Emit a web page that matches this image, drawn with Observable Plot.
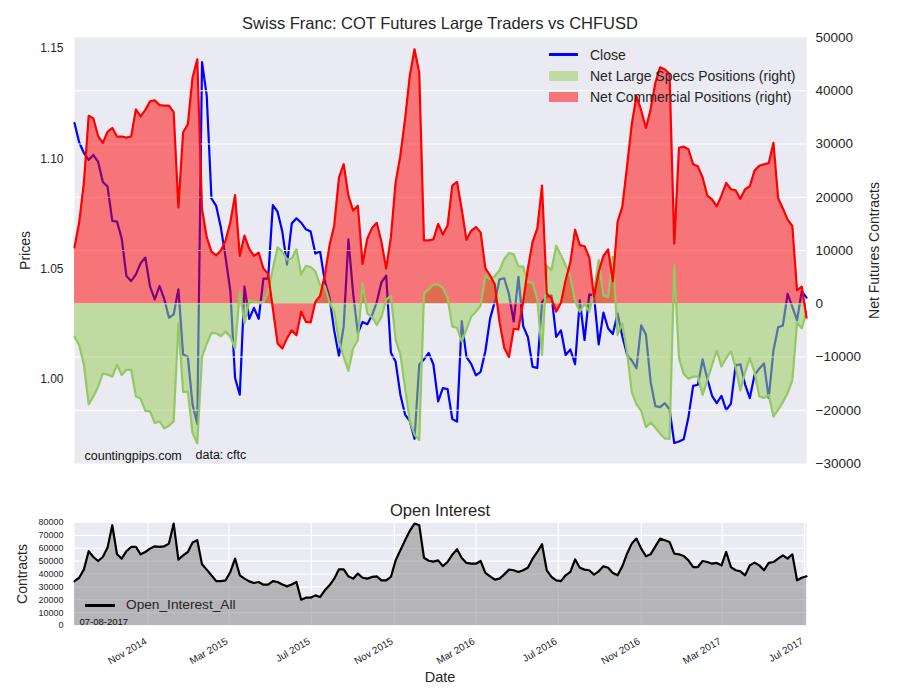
<!DOCTYPE html>
<html><head><meta charset="utf-8">
<script src="https://cdn.jsdelivr.net/npm/d3@7"></script>
<script src="https://cdn.jsdelivr.net/npm/@observablehq/plot@0.6"></script>
<style>
body{margin:0;background:#fff;}
#wrap{position:relative;width:900px;height:700px;font-family:"Liberation Sans",Arial,sans-serif;color:#262626;overflow:hidden;}
#wrap svg{position:absolute;left:0;top:0;}
.t{position:absolute;white-space:nowrap;line-height:1;}
.c{transform:translate(-50%,-50%);}
.sw{position:absolute;}
</style></head><body><div id="wrap"></div>
<script>
// Weekly COT report dates start
const startDate = "2014-07-15";

// CHFUSD close (left axis)
const close = [
1.1162,1.1074,1.1026,1.0995,1.1017,1.0986,1.0895,1.0874,1.0718,1.0715,
1.0638,1.0468,1.0445,1.0476,1.0526,1.0552,1.0420,1.0362,1.0423,1.0365,
1.0279,1.0294,1.0408,1.0112,1.0102,0.9885,0.9798,1.1438,1.1286,1.0820,
1.0786,1.0688,1.0552,1.0400,1.0006,0.9930,1.0420,1.0274,1.0324,1.0274,
1.0456,1.0456,1.0790,1.0760,1.0670,1.0520,1.0706,1.0730,1.0710,1.0680,
1.0670,1.0570,1.0580,1.0445,1.0370,1.0220,1.0105,1.0240,1.0635,1.0390,
1.0210,1.0260,1.0250,1.0290,1.0350,1.0440,1.0470,1.0120,1.0080,0.9930,
0.9840,0.9810,0.9730,1.0067,1.0090,1.0120,1.0067,0.9900,0.9960,0.9955,
0.9820,0.9808,1.0264,1.0100,1.0070,1.0018,1.0034,1.0127,1.0275,1.0352,
1.0453,1.0458,1.0385,1.0262,1.0464,1.0241,1.0192,1.0056,1.0052,1.0350,
1.0375,1.0380,1.0192,1.0222,1.0110,1.0135,1.0068,1.0358,1.0178,1.0385,
1.0380,1.0158,1.0302,1.0230,1.0205,1.0298,1.0195,1.0112,1.0085,1.0050,
1.0245,1.0203,0.9987,0.9878,0.9874,0.9892,0.9863,0.9711,0.9718,0.9728,
0.9828,0.9970,0.9975,1.0090,1.0002,0.9925,0.9892,0.9925,0.9860,0.9890,
1.0063,1.0068,0.9976,0.9915,1.0020,1.0048,1.0072,0.9915,1.0130,1.0236,
1.0244,1.0387,1.0328,1.0268,1.0400,1.0370];

// Net Large Specs Positions (right axis)
const specs = [
-6200,-7800,-11500,-18900,-17400,-15600,-13100,-13300,-13700,-11500,
-13400,-12400,-12400,-17400,-17800,-20100,-20200,-22400,-22100,-23400,
-22900,-22100,-3700,-16600,-16500,-24300,-26200,-10000,-7500,-5500,
-5500,-6100,-5200,-6200,-8400,2200,-3700,660,340,300,
340,2200,6600,10600,9800,8300,8500,10200,5500,7100,
6900,6100,3500,3300,340,-1500,-7100,-10000,-12600,-8400,
-6800,3800,-1800,-2500,-4000,-2500,780,1470,-6800,-9500,
-15900,-22100,-24600,-25600,1900,2700,3600,3600,3000,1100,
-4300,-4500,-7100,-4800,-2400,-1500,-300,5300,4600,5200,
6300,8400,9500,9300,7000,7000,4100,3900,800,-9600,
7200,6300,10900,9100,7200,5100,500,-1500,0,-1500,
2300,8200,1500,1300,8800,-5900,-3700,-9100,-16600,-18900,
-20100,-23200,-22300,-23300,-24400,-25300,-25400,7200,-10200,-13200,
-14100,-13700,-13700,-17100,-14400,-11500,-8800,-11800,-10200,-8900,
-12000,-16300,-12900,-10200,-12900,-17400,-17700,-17100,-21200,-19900,
-18500,-16800,-14400,-3500,-4600,-1500];

// Net Commercial Positions (right axis)
const commercial = [
10600,15300,22800,35300,34800,31500,30200,32300,33000,31400,
31400,31200,31400,36500,35200,36400,38000,38200,37300,37200,
37200,36000,18100,32200,33700,42500,45900,17800,12500,9800,
9100,10000,11900,15300,20400,9000,12800,10300,9000,9600,
6600,5650,-900,-7460,-8400,-6500,-5000,-5900,-1500,-3400,
-3500,340,1470,5340,10950,14700,23700,26200,20300,17500,
18400,7500,12200,14200,15200,11600,6600,12500,22800,27800,
34700,42800,47800,43400,11900,11900,12100,15000,13000,14700,
22200,22900,17700,12000,13700,14400,13400,6700,5300,3600,
-3400,-8300,-10000,-4700,-4800,340,6600,11600,14100,22200,
1900,970,-1500,200,4400,7800,13900,11000,10800,8700,
1300,6000,9000,10200,4200,15400,18200,25800,33700,39000,
36300,33000,36500,41500,44400,44000,43200,11300,29300,29500,
29000,26200,25800,23700,20300,19600,18300,20300,22700,21500,
21300,19700,21500,22100,25000,25900,26200,26400,30200,19800,
17900,15800,14600,2500,3200,-2600];

// Open interest (bottom panel)
const openInterest = [
34500,37100,43600,57700,53200,50100,53200,60500,77900,55300,
51900,57700,61000,61000,55300,57100,59700,61500,61000,61500,
63600,79200,51200,54500,57100,64400,66200,47500,43400,39000,
34500,34500,35100,41600,52000,39000,36400,34300,33000,33800,
31700,31700,34500,33800,31900,30400,31900,33800,20000,21600,
21600,23400,22100,27300,31200,36400,43600,43600,38200,36400,
40300,37100,36400,37700,38200,35100,35100,37700,50600,58400,
66200,73500,79200,77900,52600,50300,49600,50600,46100,49300,
55000,59200,52500,48600,48000,48000,50100,40800,38200,35600,
36400,39700,43400,42900,41600,42900,44900,51900,57100,63100,
42900,37700,35100,34500,39000,41600,51400,44900,43400,42900,
39500,42100,46000,44900,40800,39000,46000,55800,63600,67500,
59700,53800,55300,61500,67500,66200,64900,55800,55300,54000,
50600,45400,45400,50100,49300,48000,48600,46700,57100,45400,
42900,42100,39000,46700,48800,46700,42900,48600,49300,51900,
54500,51900,55300,35100,37100,38200];

const leftTicks = [1.00, 1.05, 1.10, 1.15];
const rightTicks = [-30000,-20000,-10000,0,10000,20000,30000,40000,50000];
const oiTicks = [0,10000,20000,30000,40000,50000,60000,70000,80000];
const dateTicks = ["2014-11-01","2015-03-01","2015-07-01","2015-11-01","2016-03-01","2016-07-01","2016-11-01","2017-03-01","2017-07-01"].map(d => new Date(d));

const start = new Date(startDate);
const data = close.map((c, i) => ({
  date: d3.utcDay.offset(start, 7 * i),
  close: c, spec: specs[i], comm: commercial[i], oi: openInterest[i]
}));

const FONT = '"Liberation Sans", Arial, sans-serif';
const TXT = "#262626";
const BG = "#EAEAF2";
const GREEN = "#9ACD5E";
const xDomain = [data[0].date, data[data.length - 1].date];
const common = {
  width: 900, height: 700, marginLeft: 74, marginRight: 94,
  style: {background: "transparent", overflow: "visible", fontFamily: FONT, color: TXT, maxWidth: "none"}
};
const fmtSigned = d => d < 0 ? "\u2212" + Math.abs(d) : String(d);

// Top panel, primary axis
const plotA = Plot.plot({
  ...common, marginTop: 37, marginBottom: 237,
  x: {type: "utc", domain: xDomain, axis: null},
  y: {domain: [0.9618, 1.155]},
  marks: [
    Plot.frame({fill: BG, stroke: null}),
    Plot.lineY(data, {x: "date", y: "close", stroke: "#0000FF", strokeWidth: 2.2}),
    Plot.axisY(leftTicks, {tickSize: 0, tickPadding: 11, fontSize: 12, tickFormat: d3.format(".2f"), label: null}),
    Plot.text(["Prices"], {frameAnchor: "left", dx: -49, rotate: -90, fontSize: 14, textAnchor: "middle"})
  ]
});

// Top panel, secondary axis
const plotB = Plot.plot({
  ...common, marginTop: 37, marginBottom: 237,
  x: {type: "utc", domain: xDomain, axis: null},
  y: {domain: [-30000, 50000]},
  marks: [
    Plot.ruleY(rightTicks.slice(1, -1), {stroke: "#fff", strokeWidth: 1.2}),
    Plot.areaY(data, {x: "date", y: "spec", fill: GREEN, fillOpacity: 0.55}),
    Plot.areaY(data, {x: "date", y: "comm", fill: "#FF0000", fillOpacity: 0.5}),
    Plot.lineY(data, {x: "date", y: "spec", stroke: "#93C862", strokeWidth: 2.2}),
    Plot.lineY(data, {x: "date", y: "comm", stroke: "#FF0000", strokeWidth: 2.2}),
    Plot.axisY(rightTicks, {anchor: "right", tickSize: 0, tickPadding: 9, fontSize: 13.5, tickFormat: fmtSigned, label: null}),
    Plot.text(["Net Futures Contracts"], {frameAnchor: "right", dx: 68, rotate: -90, fontSize: 14, textAnchor: "middle"}),
    Plot.text(["countingpips.com"], {frameAnchor: "bottom-left", dx: 10, dy: -4, fontSize: 12.5, fill: "#111"}),
    Plot.text(["data: cftc"], {frameAnchor: "bottom-left", dx: 121, dy: -5, fontSize: 12.5, fill: "#111"})
  ]
});

// Bottom panel
const plotC = Plot.plot({
  ...common, marginTop: 522, marginBottom: 75,
  x: {type: "utc", domain: xDomain},
  y: {domain: [0, 80000]},
  marks: [
    Plot.frame({fill: BG, stroke: null}),
    Plot.gridX(dateTicks, {stroke: "#fff", strokeOpacity: 1, strokeWidth: 1.2}),
    Plot.gridY(oiTicks.slice(1), {stroke: "#fff", strokeOpacity: 1, strokeWidth: 1.2}),
    Plot.areaY(data, {x: "date", y: "oi", fill: "#808080", fillOpacity: 0.5}),
    Plot.lineY(data, {x: "date", y: "oi", stroke: "#000", strokeWidth: 2.2}),
    Plot.axisY(oiTicks, {tickSize: 0, tickPadding: 11, fontSize: 9, tickFormat: d => String(d), label: null}),
    Plot.axisX(dateTicks, {tickSize: 0, tickPadding: 15, dx: -2, fontSize: 10, tickRotate: -30, tickFormat: d3.utcFormat("%b %Y"), label: null}),
    Plot.text(["Contracts"], {frameAnchor: "left", dx: -52, rotate: -90, fontSize: 14, textAnchor: "middle"}),
    Plot.text(["07-08-2017"], {frameAnchor: "bottom-left", dx: 5, dy: -1, fontSize: 9.5, fill: "#111"})
  ]
});

const wrap = document.getElementById("wrap");
wrap.append(plotA, plotB, plotC);

function addText(txt, x, y, size, cls) {
  const d = document.createElement("div");
  d.className = "t " + (cls || "");
  d.textContent = txt;
  d.style.left = x + "px"; d.style.top = y + "px"; d.style.fontSize = size + "px";
  if (!cls) d.style.transform = "translateY(-50%)";
  wrap.append(d);
}
function addSwatch(x, y, w, h, bg) {
  const d = document.createElement("div");
  d.className = "sw";
  d.style.left = x + "px"; d.style.top = y + "px"; d.style.width = w + "px"; d.style.height = h + "px";
  d.style.background = bg;
  wrap.append(d);
}
addText("Swiss Franc: COT Futures Large Traders vs CHFUSD", 440, 23, 16.5, "c");
addText("Open Interest", 440, 510, 16.5, "c");
addText("Date", 440, 677, 14.5, "c");
// top legend
addSwatch(549, 53, 29, 2.5, "#0000FF");
addText("Close", 590, 55, 14);
addSwatch(549, 71, 29, 10, "rgba(154,205,94,0.55)");
addText("Net Large Specs Positions (right)", 590, 76, 14);
addSwatch(549, 92, 29, 10, "rgba(255,0,0,0.5)");
addText("Net Commercial Positions (right)", 590, 97, 14);
// bottom legend
addSwatch(85, 604, 30, 2.5, "#000");
addText("Open_Interest_All", 126, 605, 13.7);
</script></body></html>
